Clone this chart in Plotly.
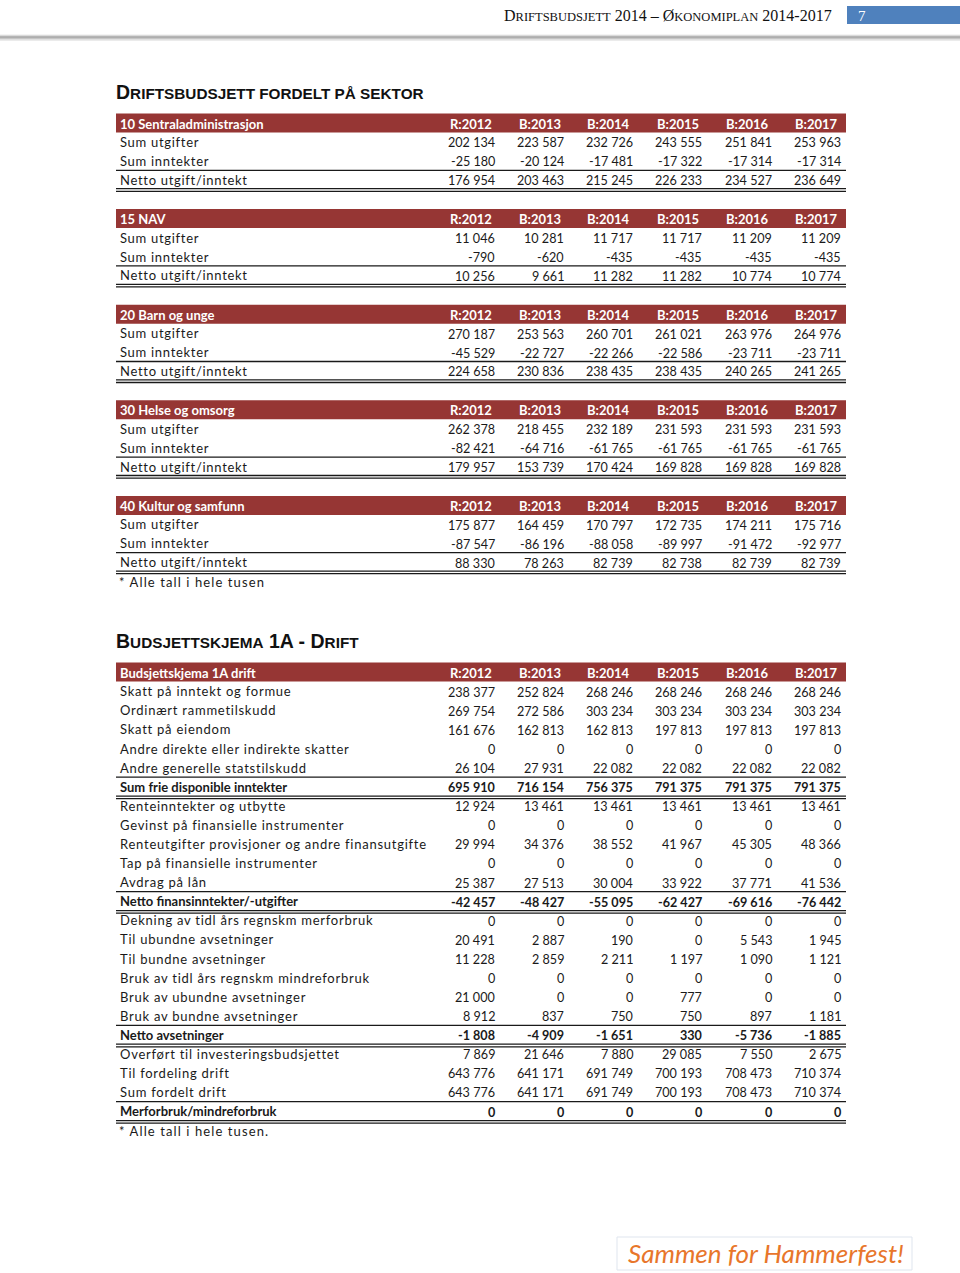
import plotly.graph_objects as go

# ---------------- DATA ----------------
years = ["R:2012", "B:2013", "B:2014", "B:2015", "B:2016", "B:2017"]

sector_names = ["10 Sentraladministrasjon", "15 NAV", "20 Barn og unge",
                "30 Helse og omsorg", "40 Kultur og samfunn"]
sector_rows = ["Sum utgifter", "Sum inntekter", "Netto utgift/inntekt"]

sec10 = [[202134, 223587, 232726, 243555, 251841, 253963],
         [-25180, -20124, -17481, -17322, -17314, -17314],
         [176954, 203463, 215245, 226233, 234527, 236649]]
sec15 = [[11046, 10281, 11717, 11717, 11209, 11209],
         [-790, -620, -435, -435, -435, -435],
         [10256, 9661, 11282, 11282, 10774, 10774]]
sec20 = [[270187, 253563, 260701, 261021, 263976, 264976],
         [-45529, -22727, -22266, -22586, -23711, -23711],
         [224658, 230836, 238435, 238435, 240265, 241265]]
sec30 = [[262378, 218455, 232189, 231593, 231593, 231593],
         [-82421, -64716, -61765, -61765, -61765, -61765],
         [179957, 153739, 170424, 169828, 169828, 169828]]
sec40 = [[175877, 164459, 170797, 172735, 174211, 175716],
         [-87547, -86196, -88058, -89997, -91472, -92977],
         [88330, 78263, 82739, 82738, 82739, 82739]]
sector_values = [sec10, sec15, sec20, sec30, sec40]

skjema_title = "Budsjettskjema 1A drift"
skjema_labels = [
    "Skatt på inntekt og formue",
    "Ordinært rammetilskudd",
    "Skatt på eiendom",
    "Andre direkte eller indirekte skatter",
    "Andre generelle statstilskudd",
    "Sum frie disponible inntekter",
    "Renteinntekter og utbytte",
    "Gevinst på finansielle instrumenter",
    "Renteutgifter provisjoner og andre finansutgifte",
    "Tap på finansielle instrumenter",
    "Avdrag på lån",
    "Netto finansinntekter/-utgifter",
    "Dekning av tidl års regnskm merforbruk",
    "Til ubundne avsetninger",
    "Til bundne avsetninger",
    "Bruk av tidl års regnskm mindreforbruk",
    "Bruk av ubundne avsetninger",
    "Bruk av bundne avsetninger",
    "Netto avsetninger",
    "Overført til investeringsbudsjettet",
    "Til fordeling drift",
    "Sum fordelt drift",
    "Merforbruk/mindreforbruk",
]
skjema_values = [
    [238377, 252824, 268246, 268246, 268246, 268246],
    [269754, 272586, 303234, 303234, 303234, 303234],
    [161676, 162813, 162813, 197813, 197813, 197813],
    [0, 0, 0, 0, 0, 0],
    [26104, 27931, 22082, 22082, 22082, 22082],
    [695910, 716154, 756375, 791375, 791375, 791375],
    [12924, 13461, 13461, 13461, 13461, 13461],
    [0, 0, 0, 0, 0, 0],
    [29994, 34376, 38552, 41967, 45305, 48366],
    [0, 0, 0, 0, 0, 0],
    [25387, 27513, 30004, 33922, 37771, 41536],
    [-42457, -48427, -55095, -62427, -69616, -76442],
    [0, 0, 0, 0, 0, 0],
    [20491, 2887, 190, 0, 5543, 1945],
    [11228, 2859, 2211, 1197, 1090, 1121],
    [0, 0, 0, 0, 0, 0],
    [21000, 0, 0, 777, 0, 0],
    [8912, 837, 750, 750, 897, 1181],
    [-1808, -4909, -1651, 330, -5736, -1885],
    [7869, 21646, 7880, 29085, 7550, 2675],
    [643776, 641171, 691749, 700193, 708473, 710374],
    [643776, 641171, 691749, 700193, 708473, 710374],
    [0, 0, 0, 0, 0, 0],
]
skjema_bold = [5, 11, 18, 22]

# ---------------- STYLE / LAYOUT ----------------
W, H = 960, 1273
FONT = "Lato, 'Open Sans', sans-serif"
RED = "#963634"
X0, X1 = 116, 846
COL_R = [496.5, 565.8, 635.1, 704.4, 773.7, 843.0]
FS = 13
NFS = 12.6
NDY = 0.8  # small vertical nudge for number cells

fig = go.Figure()
ann = []
shapes = []


def fmt(v):
    s = f"{abs(v):,}".replace(",", " ")
    return ("-" if v < 0 else "") + s


def txt(x, y, t, anchor="left", size=FS, color="#1a1a1a", bold=False, family=FONT,
        spacing=None):
    if spacing:
        t = f"<span style='letter-spacing:{spacing}px'>" + t + "</span>"
    if bold:
        t = "<b>" + t + "</b>"
    ann.append(dict(x=x, y=y, xref="x", yref="y", text=t, showarrow=False,
                    xanchor=anchor, yanchor="middle",
                    font=dict(family=family, size=size, color=color)))


def hline(y, w=1.2, color="#1a1a1a", x0=X0, x1=X1):
    shapes.append(dict(type="line", xref="x", yref="y", x0=x0, x1=x1, y0=y, y1=y,
                       line=dict(color=color, width=w)))


def header_bar(yc, title):
    shapes.append(dict(type="rect", xref="x", yref="y", x0=X0, x1=X1,
                       y0=yc - 9.5, y1=yc + 9.5, fillcolor=RED, line=dict(width=0),
                       layer="below"))
    txt(X0 + 2, yc + 0.5, title, color="white", bold=True)
    for j, yr in enumerate(years):
        txt(COL_R[j] - 3, yc + 0.5, yr, anchor="right", color="white", bold=True)


def double_line(y):
    hline(y, 1.3)
    hline(y + 2.6, 1.3)


# --- page header ---
SERIF = "'Liberation Serif', 'DejaVu Serif', serif"
S = "<span style='font-size:12.5px'>"
head = ("D" + S + "RIFTSBUDSJETT</span> 2014 – Ø" + S + "KONOMIPLAN</span> 2014-2017")
txt(834, 15.5, head, anchor="right", size=16, color="#111111", family=SERIF)
shapes.append(dict(type="rect", xref="x", yref="y", x0=847, x1=W, y0=6, y1=24,
                   fillcolor="#4F81BD", line=dict(width=0)))
txt(856, 15.5, "7", size=15, color="white", family=SERIF)
for yy, c, w in [(35.2, "#dcdcdc", 1), (36.5, "#b4b4b4", 1.3), (37.8, "#9a9a9a", 1.3),
                 (39.0, "#bdbdbd", 1.2), (40.2, "#e2e2e2", 1)]:
    hline(yy, w, c, 0, W)

# --- section 1 ---
T = "<span style='font-size:15.3px'>"
txt(114, 92, "D" + T + "RIFTSBUDSJETT FORDELT PÅ SEKTOR</span>", size=19.5,
    color="#111111", bold=True, family="'Liberation Sans', Arial, sans-serif")

STEP_BLOCK = 95.6
for b, (name, vals) in enumerate(zip(sector_names, sector_values)):
    yc = 123 + b * STEP_BLOCK
    header_bar(yc, name)
    ys = [yc + 19, yc + 38, yc + 56.8]
    for i, lab in enumerate(sector_rows):
        txt(X0 + 2, ys[i], lab, spacing=0.7)
        for j, v in enumerate(vals[i]):
            txt(COL_R[j], ys[i] + NDY, fmt(v), anchor="right", size=NFS)
    hline(yc + 47.3, 1.3)
    double_line(yc + 65.7)

txt(X0 + 1, 581.5, "* Alle tall i hele tusen", spacing=1.1)

# --- section 2 ---
txt(114, 640.5, "B" + T + "UDSJETTSKJEMA</span> 1A - D" + T + "RIFT</span>", size=19.5,
    color="#111111", bold=True, family="'Liberation Sans', Arial, sans-serif")

header_bar(672, skjema_title)
RSTEP = 19.09
for i, lab in enumerate(skjema_labels):
    y = 691.3 + i * RSTEP
    bold = i in skjema_bold
    txt(X0 + 2, y, lab, bold=bold, spacing=None if bold else 0.75)
    for j, v in enumerate(skjema_values[i]):
        txt(COL_R[j], y + NDY, fmt(v), anchor="right", bold=bold, size=NFS)
    if bold:
        hline(y - 9.6, 1.3)
        double_line(y + 9.3)

txt(X0 + 1, 1131, "* Alle tall i hele tusen.", spacing=1.1)

# --- footer logo ---
shapes.append(dict(type="rect", xref="x", yref="y", x0=617, x1=912, y0=1237, y1=1270,
                   fillcolor="white", line=dict(color="#dfe5ee", width=1)))
txt(766, 1253, "<i>Sammen for Hammerfest!</i>", anchor="center", size=26,
    color="#E8762B", family="Lato, sans-serif")

fig.update_layout(
    width=W, height=H, margin=dict(l=0, r=0, t=0, b=0),
    paper_bgcolor="white", plot_bgcolor="white",
    xaxis=dict(range=[0, W], visible=False, fixedrange=True),
    yaxis=dict(range=[H, 0], visible=False, fixedrange=True),
    annotations=ann, shapes=shapes, showlegend=False,
)
fig.write_html("out.html", config={"displayModeBar": False},
               post_script="document.body.style.margin='0px';document.body.style.overflow='hidden';")
